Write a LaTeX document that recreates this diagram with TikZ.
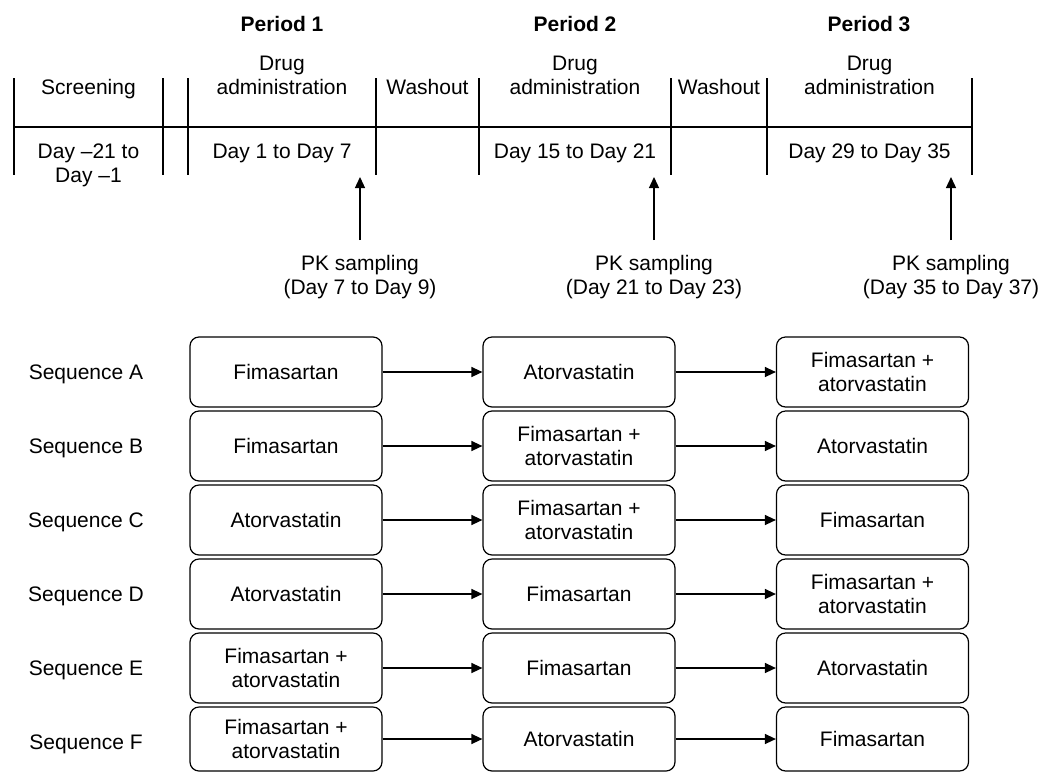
\documentclass[tikz,border=0pt]{standalone}
\usepackage{fontspec}
\setmainfont{Liberation Sans}
\usetikzlibrary{arrows.meta}
\begin{document}
\begin{tikzpicture}[x=1pt,y=-1pt,
  txt/.style={inner sep=0pt, font=\fontsize{21}{24}\selectfont},
  lab/.style={txt, anchor=base},
  ttl/.style={inner sep=0pt, anchor=base, font=\fontsize{21}{24}\selectfont\bfseries},
  ml/.style={txt, align=center, anchor=center},
  box/.style={draw, line width=1.2pt, rounded corners=9pt, minimum width=192pt, minimum height=70pt, inner sep=0pt, font=\fontsize{21}{24}\selectfont, align=center},
  tl/.style={line width=1.3pt},
  arr/.style={line width=1.3pt, -{Triangle[length=11pt,width=10pt]}},
]
\useasboundingbox (0,0) rectangle (1041,772);

% timeline table
\foreach \x in {14,163,188,376,479,671,767,972} \draw[tl] (\x,78) -- (\x,175);
\draw[tl] (14,127) -- (972,127);

% period titles
\node[ttl] (p1) at (282,31.7) {Period 1};
\node[ttl] (p2) at (575,31.7) {Period 2};
\node[ttl] (p3) at (869,31.7) {Period 3};

% header row
\node[lab] (scr) at (88.5,94.5) {Screening};
\node[ml] (da1) at (282,74.9) {Drug\\administration};
\node[lab] (wo1) at (427.5,94.5) {Washout};
\node[ml] (da2) at (575,74.9) {Drug\\administration};
\node[lab] (wo2) at (719,94.5) {Washout};
\node[ml] (da3) at (869.5,74.9) {Drug\\administration};

% day row
\node[ml] (d0) at (88.5,164.9) {Day –21 to\\Day –1};
\node[lab] (d1) at (282,158.3) {Day 1 to Day 7};
\node[lab] (d2) at (575,158.3) {Day 15 to Day 21};
\node[lab] (d3) at (869.5,158.3) {Day 29 to Day 35};

% PK sampling
\node[ml] (pk1) at (360,276.6) {PK sampling\\(Day 7 to Day 9)};
\node[ml] (pk2) at (654,276.6) {PK sampling\\(Day 21 to Day 23)};
\node[ml] (pk3) at (951,276.6) {PK sampling\\(Day 35 to Day 37)};
\coordinate (pk1b) at (360,240); \coordinate (pk1t) at (360,177);
\coordinate (pk2b) at (654,240); \coordinate (pk2t) at (654,177);
\coordinate (pk3b) at (951,240); \coordinate (pk3t) at (951,177);
\draw[arr] (pk1b) -- (pk1t);
\draw[arr] (pk2b) -- (pk2t);
\draw[arr] (pk3b) -- (pk3t);

% sequences
\node[lab] (sA) at (86,379.5) {Sequence A};
\node[box] (a1) at (286,372) {Fimasartan};
\node[box] (a2) at (579,372) {Atorvastatin};
\node[box] (a3) at (872.5,372) {Fimasartan +\\atorvastatin};

\node[lab] (sB) at (86,453.5) {Sequence B};
\node[box] (b1) at (286,446) {Fimasartan};
\node[box] (b2) at (579,446) {Fimasartan +\\atorvastatin};
\node[box] (b3) at (872.5,446) {Atorvastatin};

\node[lab] (sC) at (86,527.5) {Sequence C};
\node[box] (c1) at (286,520) {Atorvastatin};
\node[box] (c2) at (579,520) {Fimasartan +\\atorvastatin};
\node[box] (c3) at (872.5,520) {Fimasartan};

\node[lab] (sD) at (86,601.5) {Sequence D};
\node[box] (d1b) at (286,594) {Atorvastatin};
\node[box] (d2b) at (579,594) {Fimasartan};
\node[box] (d3b) at (872.5,594) {Fimasartan +\\atorvastatin};

\node[lab] (sE) at (86,675.5) {Sequence E};
\node[box] (e1) at (286,668) {Fimasartan +\\atorvastatin};
\node[box] (e2) at (579,668) {Fimasartan};
\node[box] (e3) at (872.5,668) {Atorvastatin};

\node[lab] (sF) at (86,749.5) {Sequence F};
\node[box, minimum height=64pt] (f1) at (286,739) {Fimasartan +\\atorvastatin};
\node[box, minimum height=64pt] (f2) at (579,739) {Atorvastatin};
\node[box, minimum height=64pt] (f3) at (872.5,739) {Fimasartan};

\foreach \r in {a,b,c,e,f} {
  \draw[arr] (\r1) -- (\r2);
  \draw[arr] (\r2) -- (\r3);
}
\draw[arr] (d1b) -- (d2b);
\draw[arr] (d2b) -- (d3b);
\end{tikzpicture}
\end{document}
